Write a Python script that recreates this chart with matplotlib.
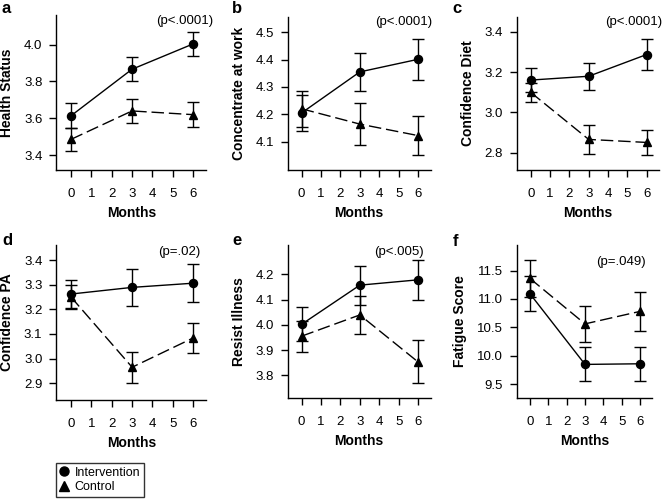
import matplotlib
matplotlib.use("Agg")
import matplotlib.pyplot as plt
from matplotlib.lines import Line2D
import numpy as np

plt.rcParams['font.family'] = ['Liberation Sans', 'DejaVu Sans']

months = [0, 3, 6]
xticks = [0, 1, 2, 3, 4, 5, 6]

panel_letters = ["a", "b", "c", "d", "e", "f"]
ylabels = ["Health Status", "Concentrate at work", "Confidence Diet",
           "Confidence PA", "Resist Illness", "Fatigue Score"]
pvalues = ["(p<.0001)", "(p<.0001)", "(p<.0001)", "(p=.02)", "(p<.005)", "(p=.049)"]

# Intervention means and error half-widths
int_a = [3.614, 3.866, 4.003]; int_a_err = [0.068, 0.065, 0.065]
int_b = [4.205, 4.355, 4.401]; int_b_err = [0.066, 0.070, 0.075]
int_c = [3.161, 3.180, 3.288]; int_c_err = [0.058, 0.067, 0.076]
int_d = [3.262, 3.289, 3.306]; int_d_err = [0.058, 0.075, 0.078]
int_e = [4.002, 4.157, 4.178]; int_e_err = [0.068, 0.077, 0.079]
int_f = [11.09, 9.846, 9.857]; int_f_err = [0.31, 0.30, 0.30]

# Control means and error half-widths
ctl_a = [3.486, 3.640, 3.620]; ctl_a_err = [0.062, 0.067, 0.067]
ctl_b = [4.220, 4.164, 4.122]; ctl_b_err = [0.065, 0.078, 0.071]
ctl_c = [3.100, 2.866, 2.851]; ctl_c_err = [0.047, 0.070, 0.064]
ctl_d = [3.250, 2.965, 3.084]; ctl_d_err = [0.050, 0.062, 0.062]
ctl_e = [3.955, 4.039, 3.853]; ctl_e_err = [0.061, 0.075, 0.085]
ctl_f = [11.36, 10.56, 10.78]; ctl_f_err = [0.32, 0.32, 0.345]

yticks = [
    [3.4, 3.6, 3.8, 4.0],
    [4.1, 4.2, 4.3, 4.4, 4.5],
    [2.8, 3.0, 3.2, 3.4],
    [2.9, 3.0, 3.1, 3.2, 3.3, 3.4],
    [3.8, 3.9, 4.0, 4.1, 4.2],
    [9.5, 10.0, 10.5, 11.0, 11.5],
]

ints = [(int_a, int_a_err), (int_b, int_b_err), (int_c, int_c_err),
        (int_d, int_d_err), (int_e, int_e_err), (int_f, int_f_err)]
ctls = [(ctl_a, ctl_a_err), (ctl_b, ctl_b_err), (ctl_c, ctl_c_err),
        (ctl_d, ctl_d_err), (ctl_e, ctl_e_err), (ctl_f, ctl_f_err)]

# layout (pixels)
W, H = 663, 501
rects = [  # left, top, right, bottom
    (56.4, 15, 206.2, 170),
    (287.7, 16.7, 430.6, 170),
    (516.8, 16.7, 659.2, 170),
    (56.3, 245, 206.5, 400),
    (287.7, 245, 430.6, 398),
    (516.8, 245, 651.9, 398),
]
ylims = [(3.32, 4.16), (3.996, 4.557), (2.714, 3.476),
         (2.832, 3.461), (3.71, 4.316), (9.254, 11.95)]
ptext_pos = [(213, 21), (432, 22), (662, 22), (200, 252), (424, 252), (646, 262)]
letter_pos = [(2, 13), (232, 13), (452, 13), (2, 245), (232, 245), (453, 246)]

fig = plt.figure(figsize=(W / 100, H / 100), dpi=100)

def fx(x):
    return x / W

def fy(y):
    return 1 - y / H

for i in range(6):
    l, t, r, b = rects[i]
    ax = fig.add_axes([fx(l), fy(b), (r - l) / W, (b - t) / H])
    (iv, ie), (cv, ce) = ints[i], ctls[i]
    ax.errorbar(months, cv, yerr=ce, color='black', lw=1.0, elinewidth=1.0,
                capsize=4.2, capthick=1.0, marker='^', ms=6.2, mfc='black',
                mec='black', dashes=(9, 3.5), zorder=3)
    ax.errorbar(months, iv, yerr=ie, color='black', lw=1.0, elinewidth=1.0,
                capsize=4.2, capthick=1.0, marker='o', ms=5.8, mfc='black',
                mec='black', ls='-', zorder=4)
    ax.set_xlim(-0.72, 6.65)
    ax.set_ylim(*ylims[i])
    ax.set_xticks(xticks)
    ax.set_yticks(yticks[i])
    ax.set_yticklabels(["%.1f" % v for v in yticks[i]])
    for s in ['top', 'right']:
        ax.spines[s].set_visible(False)
    for s in ['left', 'bottom']:
        ax.spines[s].set_linewidth(1.0)
    ax.tick_params(axis='x', length=5, width=1.0, pad=8, labelsize=9.5)
    ax.tick_params(axis='y', length=5, width=1.0, pad=5, labelsize=9.5)
    ax.set_xlabel("Months", fontsize=10, fontweight='bold', labelpad=4)
    ax.set_ylabel(ylabels[i], fontsize=10, fontweight='bold', labelpad=7)
    px, py = ptext_pos[i]
    fig.text(fx(px), fy(py), pvalues[i], ha='right', va='center', fontsize=9.5)
    lx, ly = letter_pos[i]
    fig.text(fx(lx), fy(ly), panel_letters[i], ha='left', va='baseline',
             fontsize=12, fontweight='bold')

handles = [
    Line2D([], [], color='black', marker='o', ls='none', ms=6.5),
    Line2D([], [], color='black', marker='^', ls='none', ms=6.5),
]
leg = fig.legend(handles, ["Intervention", "Control"], loc='upper left',
                 bbox_to_anchor=(fx(55.7), fy(463)), frameon=True,
                 fancybox=False, edgecolor='black', fontsize=9,
                 handlelength=0.8, handletextpad=0.4, borderpad=0.3,
                 labelspacing=0.2, borderaxespad=0)
leg.get_frame().set_linewidth(1.0)

fig.savefig("out.png", dpi=100)
